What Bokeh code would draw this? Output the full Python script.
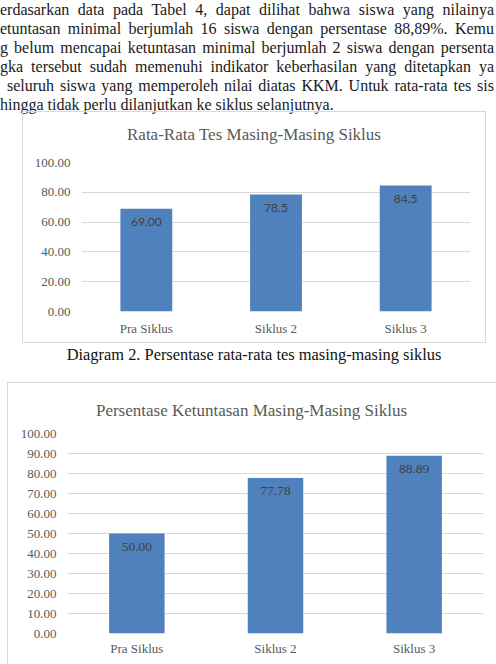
from bokeh.plotting import figure
from bokeh.models import Range1d, FixedTicker, NumeralTickFormatter, ColumnDataSource, Div, Spacer
from bokeh.layouts import column, row
from bokeh.core.properties import value
from bokeh.embed import file_html
from bokeh.resources import INLINE

# ---------------- data ----------------
categories = ["Pra Siklus", "Siklus 2", "Siklus 3"]
avg_scores = [69.00, 78.5, 84.5]
avg_labels = ["69.00", "78.5", "84.5"]
pass_pct = [50.00, 77.78, 88.89]
pass_labels = ["50.00", "77.78", "88.89"]
y1_ticks = [0, 20, 40, 60, 80, 100]
y2_ticks = [0, 10, 20, 30, 40, 50, 60, 70, 80, 90, 100]
title1 = "Rata-Rata Tes Masing-Masing Siklus"
title2 = "Persentase Ketuntasan Masing-Masing Siklus"
caption = "Diagram 2. Persentase rata-rata tes masing-masing siklus"
paragraph_lines = [
    "erdasarkan data pada Tabel 4, dapat dilihat bahwa siswa yang nilainya",
    "etuntasan minimal berjumlah 16 siswa dengan persentase 88,89%. Kemu",
    "g belum mencapai ketuntasan minimal berjumlah 2 siswa dengan persenta",
    "gka tersebut sudah memenuhi indikator keberhasilan yang ditetapkan ya",
    "seluruh siswa yang memperoleh nilai diatas KKM. Untuk rata-rata tes sis",
    "hingga tidak perlu dilanjutkan ke siklus selanjutnya.",
]

BAR = "#4f81bd"
GRID = "#d9d9d9"
GREY = "#595959"
SERIF = "'Liberation Serif', 'Times New Roman', Times, serif"
SANS_LABEL = "Lato, 'Open Sans', sans-serif"
BORDER = f"1px solid {GRID}"

# ---------------- paragraph ----------------
line_left = [0, 0, 0, 0, 7, 0]
line_width = [494, 494, 494, 494, 487, 494]
parts = []
for i, t in enumerate(paragraph_lines):
    last = i == len(paragraph_lines) - 1
    parts.append(
        f'<div style="position:absolute;left:{line_left[i]}px;top:{i*19}px;'
        f'width:{line_width[i]}px;height:19px;white-space:nowrap;'
        f'text-align:justify;text-align-last:{"left" if last else "justify"};">{t}</div>'
    )
para = Div(
    text='<div style="position:relative;width:496px;height:111px;'
         f'font-family:{SERIF};font-size:16px;line-height:19px;color:#1a1a1a;">'
         + "".join(parts) + "</div>",
    width=496, height=111, margin=0,
)

cap = Div(
    text=f'<div style="width:496px;height:39px;box-sizing:border-box;padding-top:3px;padding-left:12px;'
         f'text-align:center;font-family:{SERIF};font-size:16.4px;line-height:18px;color:#111;">{caption}</div>',
    width=496, height=39, margin=0,
)


def title_div(text, width, height, pad_top, border):
    st = {"box-sizing": "border-box"}
    st.update(border)
    return Div(
        text=f'<div style="width:{width - 2}px;padding-top:{pad_top}px;text-align:center;'
             f'font-family:{SERIF};font-size:17px;line-height:18px;color:{GREY};white-space:nowrap;">{text}</div>',
        width=width, height=height, margin=0, styles=st,
    )


def make_chart(vals, labs, ticks, width, height, ml, mr, mt, mb,
               lab_font, lab_size, x_standoff, border):
    src = ColumnDataSource(dict(cat=categories, val=vals, lab=labs))
    p = figure(x_range=categories, y_range=Range1d(0, 100), width=width, height=height,
               output_backend="svg", toolbar_location=None,
               min_border_left=ml, min_border_right=mr, min_border_top=mt, min_border_bottom=mb)
    p.vbar(x="cat", top="val", width=0.4, source=src, fill_color=BAR, line_color=None)
    p.text(x="cat", y="val", text="lab", source=src, text_align="center",
           text_baseline="top", y_offset=9, text_font=value(lab_font),
           text_font_size=lab_size, text_color="#404040")
    p.outline_line_color = None
    p.xgrid.grid_line_color = None
    p.ygrid.ticker = FixedTicker(ticks=ticks)
    p.ygrid.grid_line_color = GRID
    p.ygrid.grid_line_width = 1
    p.yaxis.ticker = FixedTicker(ticks=ticks)
    p.yaxis.formatter = NumeralTickFormatter(format="0.00")
    for ax in (p.xaxis[0], p.yaxis[0]):
        ax.axis_line_color = None
        ax.major_tick_line_color = None
        ax.minor_tick_line_color = None
        ax.major_tick_out = 0
        ax.major_tick_in = 0
        ax.minor_tick_out = 0
        ax.minor_tick_in = 0
        ax.major_label_text_font = SERIF
        ax.major_label_text_font_size = "13px"
        ax.major_label_text_color = GREY
    p.xaxis.major_label_standoff = x_standoff
    p.yaxis.major_label_standoff = 11
    st = {"box-sizing": "border-box"}
    st.update(border)
    p.styles = st
    return p


t1 = title_div(title1, 464, 41, 14,
               {"border-top": BORDER, "border-left": BORDER, "border-right": BORDER})
p1 = make_chart(avg_scores, avg_labels, y1_ticks, 464, 191, 58, 17, 10, 32,
                SANS_LABEL, "12px", 9,
                {"border-bottom": BORDER, "border-left": BORDER, "border-right": BORDER})

t2 = title_div(title2, 489, 41, 19, {"border-top": BORDER, "border-left": BORDER})
p2 = make_chart(pass_pct, pass_labels, y2_ticks, 489, 241, 59, 14, 10, 31,
                SERIF, "13.5px", 7, {"border-left": BORDER})

layout = column(
    para,
    row(Spacer(width=22, height=232, margin=0), column(t1, p1, spacing=0), spacing=0),
    cap,
    row(Spacer(width=7, height=282, margin=0), column(t2, p2, spacing=0), spacing=0),
    spacing=0,
)

open("out.html", "w").write(file_html(layout, INLINE))
